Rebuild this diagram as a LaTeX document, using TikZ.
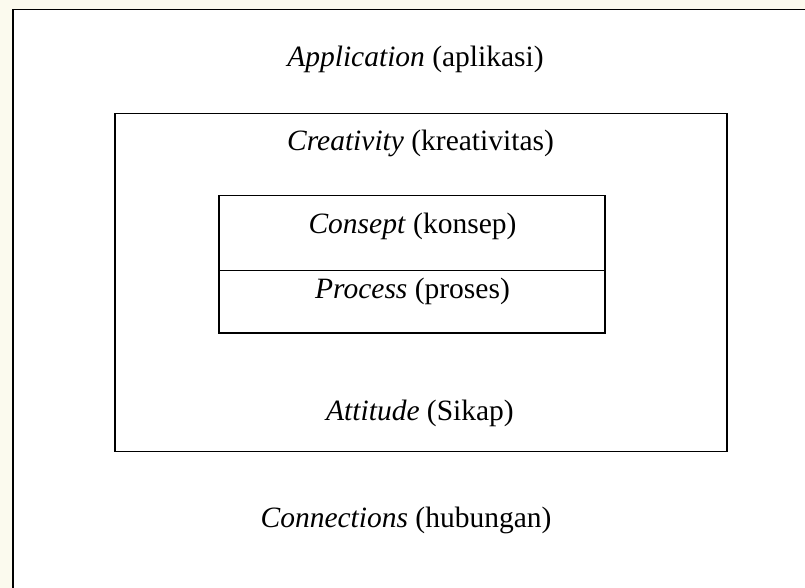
\documentclass[tikz,border=0pt]{standalone}
\usepackage{fontspec}
\setmainfont{Liberation Serif}
\definecolor{cream}{HTML}{FBFAEE}
\begin{document}
\begin{tikzpicture}[x=1pt,y=-1pt,
  lbl/.style={font=\fontsize{29.5}{34}\selectfont, anchor=base, inner sep=0pt},
  frame/.style={line width=1.8pt, draw=black}]
\useasboundingbox (0,0) rectangle (805,588);
\fill[cream] (0,0) rectangle (805,588);
\fill[white] (13,9.5) rectangle (805,588);
\draw[frame] (13,588) -- (13,9.5) -- (805,9.5);
\draw[frame] (115,113.5) rectangle (727,451.5);
\draw[frame] (219,195.5) rectangle (605,333);
\draw[frame] (219,270.5) -- (605,270.5);
\node[lbl] (app) at (415.5,67) {\textit{Application} (aplikasi)};
\node[lbl] (cre) at (420.5,150.5) {\textit{Creativity} (kreativitas)};
\node[lbl] (con) at (412.5,233) {\textit{Consept} (konsep)};
\node[lbl] (pro) at (412.5,298) {\textit{Process} (proses)};
\node[lbl] (att) at (420,420) {\textit{Attitude} (Sikap)};
\node[lbl] (cnx) at (406,527) {\textit{Connections} (hubungan)};
\end{tikzpicture}
\end{document}
